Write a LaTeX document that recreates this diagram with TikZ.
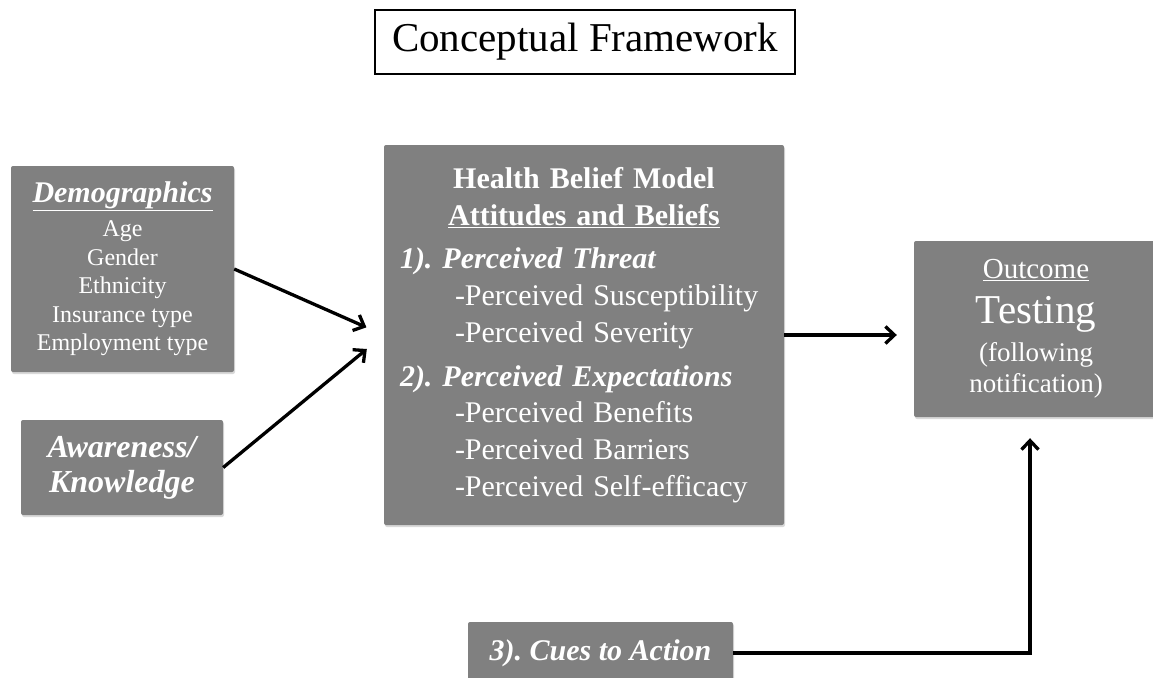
\documentclass[tikz,border=0pt]{standalone}
\usepackage{fontspec}
\setmainfont{Liberation Serif}
\usepackage{tikz}
\usetikzlibrary{positioning}
\usetikzlibrary{arrows.meta}
\usetikzlibrary{shadows}
\frenchspacing
\definecolor{boxgrey}{RGB}{128,128,128}
\tikzset{greybox/.style={rectangle, rounded corners=2pt, fill=boxgrey, text=white, inner sep=0pt, drop shadow={shadow xshift=1pt, shadow yshift=-2pt, opacity=.3}}}
\tikzset{titlebox/.style={rectangle, draw=black, line width=2pt, inner sep=0pt, minimum width=420pt, minimum height=64pt}}
\tikzset{flow/.style={line width=3.3pt, -{Straight Barb[length=9pt,width=17pt]}}}
\newcommand{\fsz}[2]{\fontsize{#1}{#2}\selectfont}

\begin{document}
\begin{tikzpicture}[x=1pt,y=-1pt]
        \useasboundingbox (0,0) rectangle (1153,677);
        \node [titlebox, font=\fsz{41}{48}](title) at (585,42) {Conceptual Framework};

        \node [greybox, align=center, minimum width=223pt, minimum height=206pt, font=\fsz{24}{28.6}](demographics) at (122.5,269)
            {{\fsz{30}{34}\bfseries\itshape\underline{Demographics}}\\[5pt] Age\\ Gender\\ Ethnicity\\ Insurance type\\ Employment type};
        \node [greybox, align=center, minimum width=202pt, minimum height=95pt, font=\fsz{32}{35}\bfseries\itshape](awareness) at (122,467.5)
            {Awareness/\\ Knowledge};

        \node [greybox, align=left, text width=368pt, minimum width=400pt, minimum height=380pt, font=\fsz{30}{36.7}](hbm) at (584,335)
            {\makebox[\linewidth]{\bfseries Health Belief Model}\\
             \makebox[\linewidth]{\bfseries\underline{Attitudes and Beliefs}}\\[7pt]
             {\bfseries\itshape 1). Perceived Threat}\\
             \hspace*{55pt}-Perceived Susceptibility\\
             \hspace*{55pt}-Perceived Severity\\[7pt]
             {\bfseries\itshape 2). Perceived Expectations}\\
             \hspace*{55pt}-Perceived Benefits\\
             \hspace*{55pt}-Perceived Barriers\\
             \hspace*{55pt}-Perceived Self-efficacy};

        \node [greybox, align=center, minimum width=244pt, minimum height=176pt, font=\fsz{27}{31}](outcome) at (1036,329)
            {{\fsz{29}{33}\underline{Outcome}}\\[14pt] {\fsz{41}{41}Testing}\\[7pt] (following\\ notification)};

        \node [greybox, minimum width=265pt, minimum height=62pt, font=\fsz{30}{34}\bfseries\itshape](cues) at (600.5,653) {3). Cues to Action};

        \draw [flow, shorten >=19pt] (demographics.east) -- (hbm.west);
        \draw [flow, shorten >=22pt] (awareness.east) -- (hbm.west);
        \draw [flow, shorten >=17pt] (hbm.east) -- (hbm.east -| outcome.west);
        \draw [flow, shorten >=21pt] (cues.east) -| ([xshift=-6pt]outcome.south);
\end{tikzpicture}
\end{document}
